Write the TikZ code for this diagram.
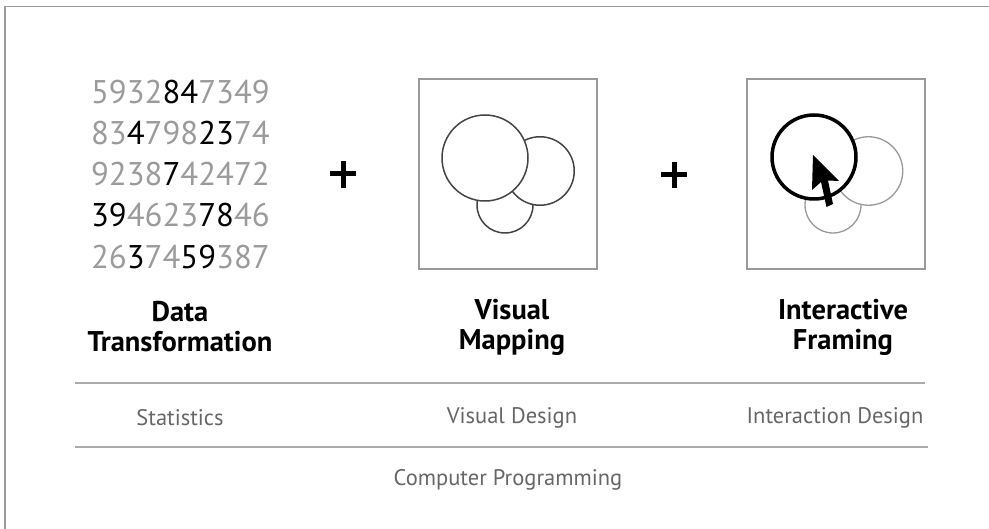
\documentclass[tikz,border=0pt]{standalone}
\usepackage{fontspec}
\setmainfont{PT Sans}
\definecolor{numgray}{HTML}{9B9B9B}
\definecolor{framegray}{HTML}{9A9A9A}
\definecolor{rulegray}{HTML}{AAAAAA}
\definecolor{labelgray}{HTML}{666666}
\definecolor{ringdark}{HTML}{444444}
\definecolor{ringlight}{HTML}{999999}
\newcommand{\dk}[1]{\textcolor{black}{#1}}
\tikzset{
  every node/.style={inner sep=0pt, outer sep=0pt},
  digits/.style={font=\fontsize{32.8}{33}\selectfont, text=numgray, anchor=west},
  title/.style={font=\fontsize{28.5}{30}\selectfont\bfseries, align=center},
  field/.style={font=\fontsize{22.5}{22.5}\selectfont, text=labelgray},
  panel/.style={draw=framegray, line width=1.6pt, minimum width=178pt, minimum height=190pt},
  bubble/.style={circle, draw=ringdark, line width=1.5pt, fill=white},
  faint/.style={circle, draw=ringlight, line width=1.3pt, fill=white},
  focus/.style={circle, draw=black, line width=3.5pt, fill=white},
  plusbar/.style={line width=5pt},
  rule/.style={draw=rulegray, line width=1.4pt}
}
\begin{document}
\begin{tikzpicture}[x=1pt,y=-1pt]
\useasboundingbox (0,0) rectangle (989,529);
\draw [framegray, line width=1.3pt] (5,529) -- (5,6.5) -- (989,6.5);
% numbers
\node [digits] (row1) at (91,92) {5932\dk{84}7349};
\node [digits] (row2) at (91,133) {83\dk{4}798\dk{23}74};
\node [digits] (row3) at (91,174) {9238\dk{7}42472};
\node [digits] (row4) at (91,215) {\dk{39}4623\dk{78}46};
\node [digits] (row5) at (91,257) {26\dk{3}74\dk{59}387};
% plus signs
\draw [plusbar] (330,173.5) -- (356,173.5);
\draw [plusbar] (343,161) -- (343,188);
\draw [plusbar] (661,174.5) -- (687,174.5);
\draw [plusbar] (674,162) -- (674,188);
% mapping panel
\node [panel] (map) at (508,174) {};
\node [bubble, minimum size=56pt] (mapC) at (505,205) {};
\node [bubble, minimum size=68.5pt] (mapB) at (540,171) {};
\node [bubble, minimum size=86pt] (mapA) at (485,158) {};
% framing panel
\node [panel] (frame) at (836,174) {};
\node [faint, minimum size=56pt] (frmC) at (833,205) {};
\node [faint, minimum size=68.5pt] (frmB) at (868.5,171) {};
\node [focus, minimum size=84pt] (frmA) at (814,157) {};
\fill [black] (813,155) -- (812,190) -- (821,182) -- (826.5,207) -- (833,204)
  -- (828,180.5) -- (839,181) -- cycle;
% headings
\node [title] (dataT) at (180,327) {Data\\Transformation};
\node [title] (mapT) at (512,327) {Visual\\Mapping};
\node [title] (frmT) at (843,327) {Interactive\\Framing};
\draw [rule] (75,383) -- (925,383);
\node [field] (stat) at (180,418) {Statistics};
\node [field] (vis) at (512,418) {Visual Design};
\node [field] (inter) at (835,418) {Interaction Design};
\draw [rule] (75,447) -- (928,447);
\node [field] (prog) at (508,480) {Computer Programming};
\end{tikzpicture}
\end{document}
